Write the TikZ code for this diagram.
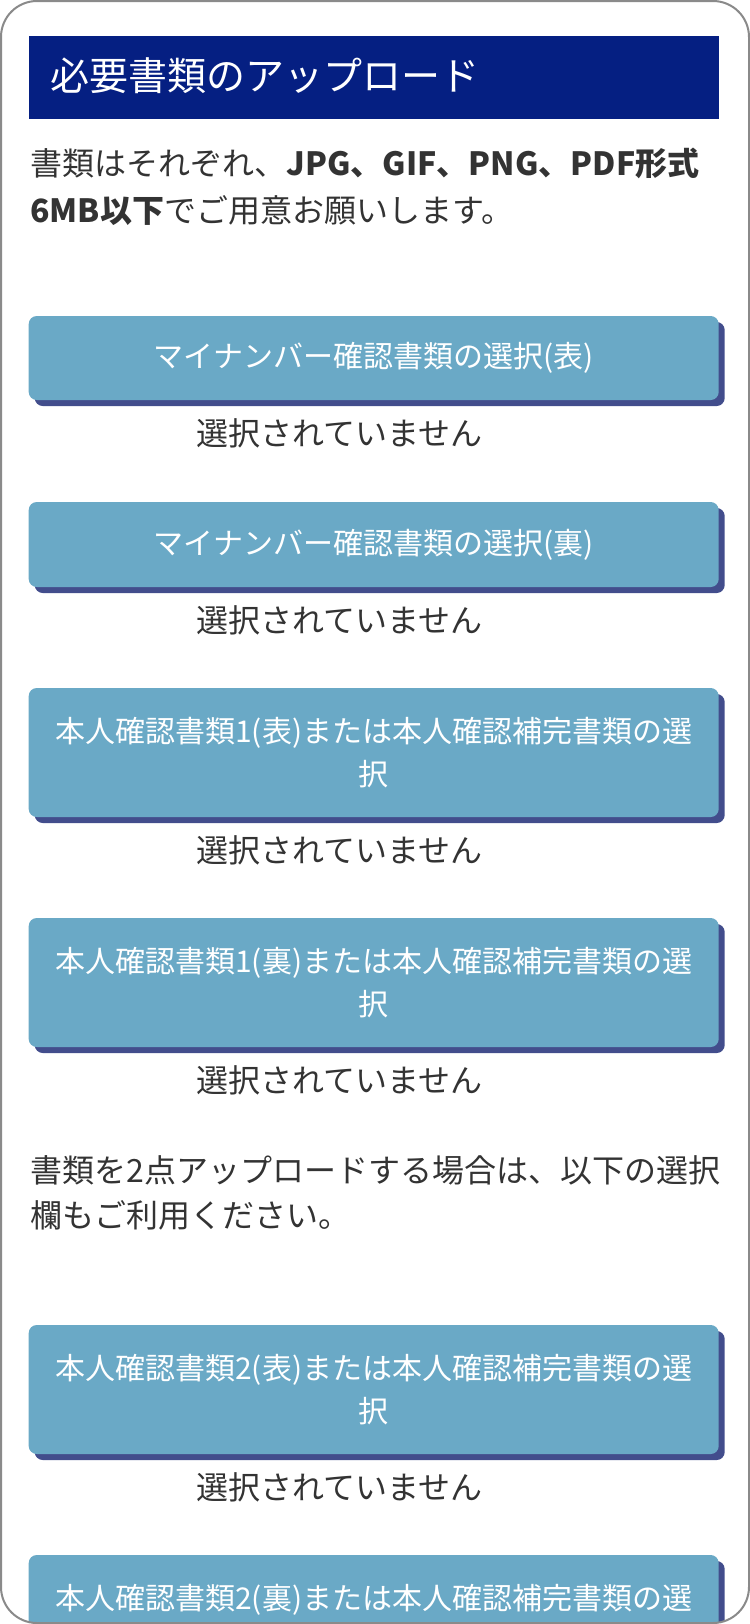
\documentclass[tikz,border=0pt]{standalone}
\usepackage{fontspec}
\setmainfont{Noto Sans CJK JP}
\usetikzlibrary{shadows}
\definecolor{headnavy}{RGB}{5, 31, 130}
\definecolor{btnblue}{RGB}{106, 169, 198}
\definecolor{btnshade}{RGB}{66, 77, 140}
\definecolor{textgray}{RGB}{51, 51, 51}
\definecolor{framegray}{RGB}{138, 138, 138}

\begin{document}
\begin{tikzpicture}[x=0.5pt, y=-0.5pt,
  headbar/.style={fill=headnavy, minimum width=345pt, minimum height=41.5pt, inner sep=0pt},
  upbtn/.style={fill=btnblue, rounded corners=4pt, minimum width=345pt, inner sep=0pt, text=white, align=center,
    font=\fontsize{15}{21.5}\selectfont, drop shadow={shadow xshift=3pt, shadow yshift=-3pt, fill=btnshade, opacity=1}},
  para/.style={anchor=west, inner sep=0pt, text=textgray, align=left, font=\fontsize{16}{23.5}\selectfont},
  nofile/.style={anchor=west, inner sep=0pt, text=textgray, font=\fontsize{16}{19}\selectfont}]
  \useasboundingbox (0,0) rectangle (750,1624);

  % heading
  \node[headbar] (head) at (373.7,77.5) {};
  \node[anchor=west, inner sep=0pt, text=white, font=\fontsize{19.5}{23}\selectfont] (title) at (50,76) {必要書類のアップロード};
  \node[para] (intro) at (30,186.5) {書類はそれぞれ、\textbf{JPG、GIF、PNG、PDF形式}\\\textbf{6MB以下}でご用意お願いします。};

  % upload buttons
  \node[upbtn, minimum height=42pt] (my1) at (373.7,358) {マイナンバー確認書類の選択(表)};
  \node[nofile] (my1f) at (196,433) {選択されていません};
  \node[upbtn, minimum height=42.5pt] (my2) at (373.7,544.5) {マイナンバー確認書類の選択(裏)};
  \node[nofile] (my2f) at (196,620) {選択されていません};
  \node[upbtn, minimum height=64.5pt] (id1a) at (373.7,752.5) {本人確認書類1(表)または本人確認補完書類の選\\択};
  \node[nofile] (id1af) at (196,850) {選択されていません};
  \node[upbtn, minimum height=64.5pt] (id1b) at (373.7,982.5) {本人確認書類1(裏)または本人確認補完書類の選\\択};
  \node[nofile] (id1bf) at (196,1080) {選択されていません};

  \node[para, font=\fontsize{16}{22.5}\selectfont] (note) at (30,1192.5) {書類を2点アップロードする場合は、以下の選択\\欄もご利用ください。};

  \node[upbtn, minimum height=64.5pt] (id2a) at (373.7,1389.5) {本人確認書類2(表)または本人確認補完書類の選\\択};
  \node[nofile] (id2af) at (196,1487) {選択されていません};
  \begin{scope}
    \clip[rounded corners=18pt] (1,1) rectangle (749,1623);
    \node[upbtn, minimum height=64.5pt] (id2b) at (373.7,1619.5) {本人確認書類2(裏)または本人確認補完書類の選\\\phantom{択}};
  \end{scope}

  % page frame
  \draw[framegray, line width=1pt, rounded corners=18pt] (1,1) rectangle (749,1623);
\end{tikzpicture}
\end{document}
